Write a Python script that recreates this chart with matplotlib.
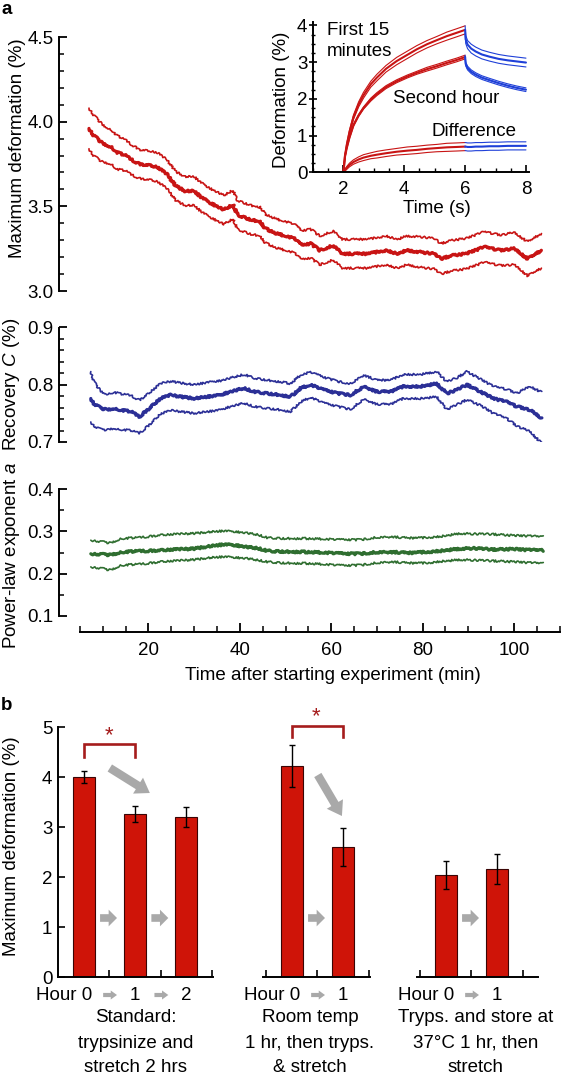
import matplotlib
matplotlib.use('Agg')
import matplotlib.pyplot as plt
from matplotlib.ticker import MultipleLocator, FixedLocator, FormatStrFormatter

plt.rcParams['font.family'] = ['Liberation Sans', 'DejaVu Sans']
plt.rcParams['mathtext.fontset'] = 'custom'
plt.rcParams['mathtext.it'] = 'Liberation Sans:italic'
plt.rcParams['mathtext.rm'] = 'Liberation Sans'
FS = 13.5

# ---------------- panel a: maximum deformation vs time ----------------
t_def = [7, 8, 10, 12, 13, 15, 16, 18, 20.5, 22, 24, 26, 28, 30, 31.5, 33.5, 36.5,
         38.5, 39.5, 42.5, 44.5, 45.5, 48, 52, 53.5, 55.5, 57.5, 60.5, 62.5, 65.5,
         68, 72, 74.5, 76.5, 79.5, 82.5, 84, 86.5, 89.5, 93.5, 97, 100, 103, 106]
def_mid = [3.96, 3.92, 3.87, 3.85, 3.82, 3.80, 3.78, 3.75, 3.74, 3.73, 3.69, 3.62,
           3.59, 3.59, 3.555, 3.52, 3.48, 3.51, 3.45, 3.42, 3.41, 3.37, 3.34, 3.31,
           3.27, 3.28, 3.24, 3.27, 3.22, 3.22, 3.22, 3.24, 3.22, 3.24, 3.23, 3.22,
           3.19, 3.21, 3.22, 3.26, 3.24, 3.25, 3.19, 3.24]
def_hi = [4.08, 4.04, 3.98, 3.95, 3.92, 3.89, 3.87, 3.835, 3.825, 3.815, 3.775,
          3.705, 3.675, 3.675, 3.64, 3.605, 3.565, 3.595, 3.535, 3.505, 3.495,
          3.455, 3.425, 3.395, 3.355, 3.365, 3.325, 3.355, 3.305, 3.305, 3.305,
          3.325, 3.305, 3.325, 3.32, 3.31, 3.28, 3.30, 3.31, 3.35, 3.33, 3.345,
          3.29, 3.34]
def_lo = [3.84, 3.80, 3.76, 3.75, 3.72, 3.71, 3.69, 3.665, 3.655, 3.645, 3.605,
          3.535, 3.505, 3.505, 3.47, 3.435, 3.395, 3.425, 3.365, 3.335, 3.325,
          3.285, 3.255, 3.225, 3.185, 3.195, 3.155, 3.185, 3.135, 3.135, 3.135,
          3.155, 3.135, 3.155, 3.14, 3.13, 3.10, 3.12, 3.13, 3.17, 3.15, 3.155,
          3.09, 3.135]

# ---------------- recovery C ----------------
t_C = [7.4, 8.1, 9.6, 11, 12.5, 13.9, 16.2, 18, 19.8, 22.7, 24.9, 27.1, 30, 32.9,
       35.8, 38, 40.9, 43.1, 46, 48.9, 51.1, 53.3, 55.5, 58.4, 61.3, 64.2, 67.1,
       70, 73, 75.8, 79.5, 83.1, 85.3, 87.5, 89.7, 92.6, 95.5, 98.4, 100.6, 103.5, 106]
C_mid = [0.776, 0.767, 0.759, 0.756, 0.759, 0.756, 0.753, 0.744, 0.756, 0.776,
         0.782, 0.779, 0.776, 0.779, 0.782, 0.788, 0.794, 0.788, 0.785, 0.782,
         0.779, 0.794, 0.800, 0.791, 0.785, 0.782, 0.797, 0.788, 0.788, 0.797,
         0.797, 0.802, 0.785, 0.791, 0.800, 0.788, 0.776, 0.770, 0.762, 0.756, 0.741]
C_hi = [0.823, 0.805, 0.788, 0.784, 0.787, 0.784, 0.781, 0.773, 0.783, 0.802,
        0.806, 0.803, 0.800, 0.804, 0.807, 0.812, 0.818, 0.812, 0.808, 0.805,
        0.802, 0.817, 0.822, 0.813, 0.806, 0.802, 0.817, 0.808, 0.808, 0.818,
        0.818, 0.823, 0.805, 0.812, 0.823, 0.810, 0.797, 0.792, 0.785, 0.797, 0.787]
C_lo = [0.735, 0.728, 0.722, 0.721, 0.724, 0.722, 0.720, 0.715, 0.727, 0.749,
        0.755, 0.753, 0.750, 0.753, 0.756, 0.762, 0.768, 0.762, 0.759, 0.756,
        0.753, 0.770, 0.778, 0.768, 0.762, 0.757, 0.775, 0.766, 0.766, 0.776,
        0.776, 0.779, 0.757, 0.765, 0.774, 0.764, 0.750, 0.741, 0.728, 0.718, 0.698]

# ---------------- power-law exponent a ----------------
t_a = [7.4, 9.5, 11.8, 13.9, 18, 22.7, 26, 30, 33, 36.5, 39, 41.6, 44, 46, 50,
       55.5, 60, 63, 66.4, 70, 73.6, 77, 80.9, 84, 88.2, 91, 95.5, 100, 103, 106.4]
a_mid = [0.247, 0.246, 0.244, 0.251, 0.253, 0.255, 0.257, 0.259, 0.264, 0.269,
         0.267, 0.263, 0.260, 0.254, 0.252, 0.251, 0.249, 0.247, 0.247, 0.251,
         0.251, 0.249, 0.251, 0.254, 0.259, 0.260, 0.257, 0.258, 0.256, 0.255]
a_hi = [0.279, 0.276, 0.272, 0.283, 0.285, 0.291, 0.293, 0.295, 0.298, 0.301,
        0.299, 0.296, 0.292, 0.285, 0.283, 0.283, 0.281, 0.280, 0.280, 0.286,
        0.287, 0.284, 0.285, 0.288, 0.295, 0.294, 0.293, 0.290, 0.289, 0.287]
a_lo = [0.216, 0.213, 0.208, 0.220, 0.222, 0.228, 0.230, 0.233, 0.237, 0.240,
        0.238, 0.236, 0.232, 0.228, 0.225, 0.224, 0.221, 0.219, 0.220, 0.226,
        0.228, 0.225, 0.225, 0.229, 0.233, 0.232, 0.230, 0.228, 0.226, 0.224]

# ---------------- inset: creep curves ----------------
t_load = [2.0, 2.05, 2.11, 2.2, 2.33, 2.5, 2.66, 2.9, 3.1, 3.4, 3.75, 4.1, 4.41,
          4.75, 5.07, 5.4, 5.72, 6.0]
first15_load = [0, 0.45, 0.75, 1.1, 1.5, 1.85, 2.1, 2.4, 2.58, 2.82, 3.03, 3.2,
                3.35, 3.49, 3.6, 3.71, 3.8, 3.88]
second_load = [0, 0.42, 0.66, 0.95, 1.28, 1.55, 1.75, 1.98, 2.13, 2.32, 2.48,
               2.61, 2.71, 2.81, 2.89, 2.98, 3.06, 3.14]
diff_load = [0, 0.06, 0.12, 0.2, 0.28, 0.35, 0.4, 0.45, 0.48, 0.52, 0.56, 0.59,
             0.61, 0.64, 0.66, 0.68, 0.69, 0.70]
err15_load = [0, 0.03, 0.04, 0.05, 0.06, 0.07, 0.08, 0.08, 0.09, 0.09, 0.1, 0.1,
              0.1, 0.1, 0.1, 0.11, 0.11, 0.11]
err2h_load = [0, 0.02, 0.02, 0.03, 0.03, 0.03, 0.03, 0.04, 0.04, 0.04, 0.04,
              0.04, 0.04, 0.05, 0.05, 0.05, 0.05, 0.05]
errd_load = [0, 0.03, 0.04, 0.05, 0.06, 0.07, 0.08, 0.08, 0.09, 0.09, 0.09, 0.1,
             0.1, 0.1, 0.1, 0.11, 0.11, 0.11]
t_rel = [6.0, 6.02, 6.08, 6.2, 6.35, 6.55, 6.8, 7.1, 7.4, 7.7, 8.0]
first15_rel = [3.88, 3.62, 3.48, 3.37, 3.29, 3.21, 3.15, 3.09, 3.05, 3.02, 2.99]
second_rel = [3.14, 2.95, 2.84, 2.74, 2.66, 2.58, 2.51, 2.43, 2.36, 2.30, 2.25]
diff_rel = [0.70, 0.70, 0.69, 0.69, 0.70, 0.70, 0.71, 0.71, 0.72, 0.72, 0.72]
err15_rel = [0.11, 0.11, 0.11, 0.12, 0.12, 0.12, 0.12, 0.12, 0.12, 0.12, 0.12]
err2h_rel = [0.05, 0.05, 0.05, 0.05, 0.05, 0.05, 0.05, 0.05, 0.05, 0.05, 0.05]
errd_rel = [0.11, 0.11, 0.11, 0.11, 0.11, 0.11, 0.11, 0.11, 0.11, 0.11, 0.11]

# ---------------- panel b: bars ----------------
g1_vals = [4.00, 3.27, 3.20]
g1_errs = [0.12, 0.16, 0.20]
g1_labels = ['Hour 0', '1', '2']
g2_vals = [4.22, 2.60]
g2_errs = [0.42, 0.38]
g2_labels = ['Hour 0', '1']
g3_vals = [2.05, 2.17]
g3_errs = [0.28, 0.30]
g3_labels = ['Hour 0', '1']
captions = [['Standard:', 'trypsinize and', 'stretch 2 hrs'],
            ['Room temp', '1 hr, then tryps.', '& stretch'],
            ['Tryps. and store at', '37\u00b0C 1 hr, then', 'stretch']]

# ======================================================================
W, H = 561, 1083
fig = plt.figure(figsize=(W / 100, H / 100), dpi=100)


def add_ax(x0, y0, x1, y1):
    return fig.add_axes([x0 / W, 1 - y1 / H, (x1 - x0) / W, (y1 - y0) / H])


RED = '#c81414'
BLUE = '#2b2f96'
GREEN = '#2f6e30'
IBLUE = '#1f40d8'
BAR = '#cf1408'
BRK = '#a51c1c'
GRAY = '#a9a9a9'

X100, PPM = 514.0, 4.57
XL = ((59 - X100) / PPM + 100, (560 - X100) / PPM + 100)


def style_left(ax, major, minor, fmt):
    for s in ['top', 'right', 'bottom']:
        ax.spines[s].set_visible(False)
    ax.spines['left'].set_linewidth(1.4)
    ax.yaxis.set_major_locator(MultipleLocator(major))
    ax.yaxis.set_minor_locator(MultipleLocator(minor))
    ax.yaxis.set_major_formatter(FormatStrFormatter(fmt))
    ax.tick_params(axis='y', which='major', direction='in', length=5.5, width=1.3,
                   labelsize=FS, pad=4)
    ax.tick_params(axis='y', which='minor', direction='in', length=3.5, width=1.1)
    ax.tick_params(axis='x', which='both', bottom=False, labelbottom=False)
    ax.patch.set_alpha(0)


def band(ax, t, c, hi, lo, color, lwb=1.2, lwc=2.3, sketch=True):
    for y, lw in ((hi, lwb), (lo, lwb), (c, lwc)):
        ln, = ax.plot(t, y, color=color, lw=lw, solid_joinstyle='round',
                      solid_capstyle='round')
        if sketch:
            ln.set_sketch_params(scale=1.0, length=1.2, randomness=8)


# top panel
ax1 = add_ax(59, 37, 560, 291)
ax1.set_xlim(*XL)
ax1.set_ylim(3.0, 4.5)
style_left(ax1, 0.5, 0.1, '%.1f')
band(ax1, t_def, def_mid, def_hi, def_lo, RED)

# middle panel
ax2 = add_ax(59, 327.5, 560, 442)
ax2.set_xlim(*XL)
ax2.set_ylim(0.7, 0.9)
style_left(ax2, 0.1, 0.02, '%.1f')
band(ax2, t_C, C_mid, C_hi, C_lo, BLUE)

# bottom panel with the time axis
ax3 = add_ax(59, 489, 560, 632)
ax3.set_xlim(*XL)
ylo = 0.1 - (632 - 616) / ((616 - 489) / 0.3)
ax3.set_ylim(ylo, 0.4)
style_left(ax3, 0.1, 0.05, '%.1f')
ax3.spines['left'].set_bounds(0.1, 0.4)
ax3.spines['bottom'].set_visible(True)
ax3.spines['bottom'].set_linewidth(1.4)
ax3.spines['bottom'].set_bounds(5, 110)
ax3.xaxis.set_major_locator(FixedLocator([20, 40, 60, 80, 100]))
ax3.xaxis.set_minor_locator(FixedLocator(list(range(5, 111, 5))))
ax3.tick_params(axis='x', which='major', bottom=True, labelbottom=True,
                direction='in', length=6.5, width=1.3, labelsize=FS, pad=7)
ax3.tick_params(axis='x', which='minor', bottom=True, direction='in', length=4,
                width=1.1)
band(ax3, t_a, a_mid, a_hi, a_lo, GREEN)

fig.text(18 / W, 1 - 148 / H, 'Maximum deformation (%)', rotation=90,
         ha='center', va='center', fontsize=FS)
fig.text(12 / W, 1 - 384 / H, 'Recovery $C$ (%)', rotation=90,
         ha='center', va='center', fontsize=FS)
fig.text(12 / W, 1 - 556 / H, 'Power-law exponent $a$', rotation=90,
         ha='center', va='center', fontsize=FS)
fig.text(333 / W, 1 - 676 / H, 'Time after starting experiment (min)',
         ha='center', va='center', fontsize=FS)
fig.text(1 / W, 1 - 10 / H, 'a', fontsize=FS, fontweight='bold',
         ha='left', va='center')

# inset
axi = add_ax(313, 21.8, 529, 172.3)
axi.set_xlim(1, 8.1)
axi.set_ylim(0, 4.1)
axi.patch.set_alpha(0)
for s in ['top', 'right']:
    axi.spines[s].set_visible(False)
for s in ['left', 'bottom']:
    axi.spines[s].set_linewidth(1.4)
axi.xaxis.set_major_locator(FixedLocator([2, 4, 6, 8]))
axi.xaxis.set_minor_locator(MultipleLocator(0.5))
axi.yaxis.set_major_locator(MultipleLocator(1))
axi.yaxis.set_minor_locator(MultipleLocator(0.25))
axi.tick_params(axis='x', which='major', direction='in', length=5, width=1.2,
                labelsize=FS, pad=6)
axi.tick_params(axis='x', which='minor', direction='in', length=3, width=1.0)
axi.tick_params(axis='y', which='major', direction='inout', length=6, width=1.2,
                labelsize=FS, pad=1)
axi.tick_params(axis='y', which='minor', direction='inout', length=3.5, width=1.0)


def pm(v, e, s):
    return [a + s * b for a, b in zip(v, e)]


for tl, vl, el, tr, vr, er in ((t_load, first15_load, err15_load, t_rel, first15_rel, err15_rel),
                               (t_load, second_load, err2h_load, t_rel, second_rel, err2h_rel),
                               (t_load, diff_load, errd_load, t_rel, diff_rel, errd_rel)):
    band(axi, tl, vl, pm(vl, el, 1), pm(vl, el, -1), RED, lwb=0.8, lwc=1.5, sketch=False)
    band(axi, tr, vr, pm(vr, er, 1), pm(vr, er, -1), IBLUE, lwb=0.8, lwc=1.5, sketch=False)

axi.text(1.46, 3.86, 'First 15', fontsize=FS, ha='left', va='center')
axi.text(1.46, 3.28, 'minutes', fontsize=FS, ha='left', va='center')
axi.text(3.63, 2.02, 'Second hour', fontsize=FS, ha='left', va='center')
axi.text(4.91, 1.10, 'Difference', fontsize=FS, ha='left', va='center')
fig.text(281 / W, 1 - 100 / H, 'Deformation (%)', rotation=90, ha='center',
         va='center', fontsize=FS)
fig.text(437 / W, 1 - 209 / H, 'Time (s)', ha='center', va='center', fontsize=FS)

# ---------------- panel b ----------------
PPS = 51.3
Y0, Y5 = 977, 727
gspec = [(58, 0.0, 3.02, g1_vals, g1_errs, g1_labels, [1, 2, 3]),
         (266, -0.06, 2.02, g2_vals, g2_errs, g2_labels, [0, 1, 2]),
         (420, -0.06, 2.30, g3_vals, g3_errs, g3_labels, [0, 1, 2])]
gaxes = []
for i, (x0, xa, xb, vals, errs, labs, ticks) in enumerate(gspec):
    left = x0 + xa * PPS
    ax = add_ax(left, Y5, x0 + xb * PPS, Y0)
    ax.set_xlim(xa, xb)
    ax.set_ylim(0, 5)
    ax.patch.set_alpha(0)
    pos = [k + 0.5 for k in range(len(vals))]
    ax.bar(pos, vals, width=0.43, yerr=errs, color=BAR, edgecolor='#3a0505',
           linewidth=0.8,
           error_kw=dict(ecolor='black', elinewidth=1.0, capsize=2.2, capthick=1.0))
    for s in ['top', 'right']:
        ax.spines[s].set_visible(False)
    ax.spines['bottom'].set_linewidth(1.4)
    ax.xaxis.set_major_locator(FixedLocator(ticks))
    ax.tick_params(axis='x', which='major', direction='in', length=5, width=1.2,
                   labelbottom=False)
    if i == 0:
        ax.spines['left'].set_linewidth(1.4)
        ax.yaxis.set_major_locator(MultipleLocator(1))
        ax.tick_params(axis='y', direction='in', length=5, width=1.2,
                       labelsize=FS, pad=4)
    else:
        ax.spines['left'].set_visible(False)
        ax.tick_params(axis='y', left=False, labelleft=False)
    tr = ax.get_xaxis_transform()
    yl = -(995 - Y0) / (Y0 - Y5)
    for k, lab in enumerate(labs):
        if k == 0:
            ax.text(0.66, yl, lab, transform=tr, ha='right', va='center',
                    fontsize=FS, clip_on=False)
        else:
            ax.text(k + 0.5, yl, lab, transform=tr, ha='center', va='center',
                    fontsize=FS, clip_on=False)
        if k > 0:
            ax.annotate('', xy=(k + 0.15, yl), xytext=(k - 0.12, yl),
                        xycoords=tr, textcoords=tr,
                        arrowprops=dict(arrowstyle='simple,head_length=0.45,head_width=0.65,tail_width=0.3',
                                        color=GRAY, shrinkA=0, shrinkB=0, lw=0),
                        annotation_clip=False)
            ax.annotate('', xy=(k + 0.15, 1.18), xytext=(k - 0.18, 1.18),
                        arrowprops=dict(arrowstyle='simple,head_length=0.6,head_width=1.2,tail_width=0.55',
                                        color=GRAY, shrinkA=0, shrinkB=0, lw=0))
    gaxes.append(ax)

g1, g2, g3 = gaxes
# diagonal arrows
g1.annotate('', xy=(1.79, 3.68), xytext=(1.01, 4.18),
            arrowprops=dict(arrowstyle='simple,head_length=1.0,head_width=1.35,tail_width=0.6',
                            color=GRAY, shrinkA=0, shrinkB=0, lw=0))
g2.annotate('', xy=(1.48, 3.22), xytext=(1.01, 4.04),
            arrowprops=dict(arrowstyle='simple,head_length=1.0,head_width=1.35,tail_width=0.6',
                            color=GRAY, shrinkA=0, shrinkB=0, lw=0))
# significance brackets
g1.plot([0.5, 0.5, 1.5, 1.5], [4.40, 4.66, 4.66, 4.40], color=BRK, lw=1.9,
        clip_on=False, solid_joinstyle='miter')
g1.text(1.0, 4.83, '*', color=BRK, fontsize=16, ha='center', va='center')
g2.plot([0.5, 0.5, 1.5, 1.5], [4.80, 5.02, 5.02, 4.80], color=BRK, lw=1.9,
        clip_on=False, solid_joinstyle='miter')
g2.text(0.98, 5.20, '*', color=BRK, fontsize=16, ha='center', va='center',
        clip_on=False)

# captions
cap_x = [136, 310, 476]
cap_y = [1017, 1043, 1067]
for cx, lines in zip(cap_x, captions):
    for cy, line in zip(cap_y, lines):
        fig.text(cx / W, 1 - cy / H, line, ha='center', va='center', fontsize=FS)

fig.text(12 / W, 1 - 846 / H, 'Maximum deformation (%)', rotation=90,
         ha='center', va='center', fontsize=FS)
fig.text(1 / W, 1 - 705 / H, 'b', fontsize=FS, fontweight='bold',
         ha='left', va='center')

fig.savefig('out.png', dpi=100, facecolor='white')
